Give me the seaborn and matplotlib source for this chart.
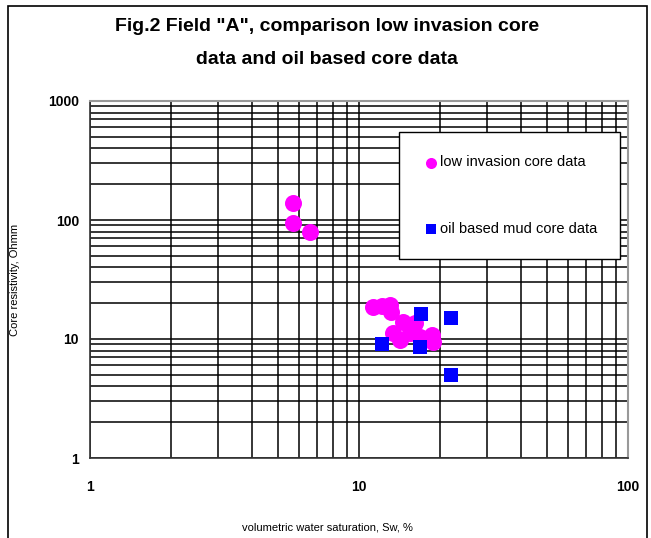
import numpy as np
import pandas as pd
import matplotlib
matplotlib.use("Agg")
import matplotlib.pyplot as plt
from matplotlib.patches import Rectangle
import seaborn as sns

sns.set_style("white")
plt.rcParams['font.family'] = ['Liberation Sans', 'DejaVu Sans']
plt.rcParams['text.color'] = 'black'
plt.rcParams['xtick.color'] = 'black'
plt.rcParams['ytick.color'] = 'black'

## data
low_inv_sw = [5.7, 5.7, 6.6, 11.3, 12.2, 13.0, 13.2, 14.6, 16.1, 13.4, 14.2, 15.5, 16.8, 18.7, 18.9, 15.7]
low_inv_rt = [138, 95, 80, 18.5, 18.8, 19.3, 16.9, 13.9, 13.6, 11.2, 9.9, 11.2, 10.4, 10.8, 9.4, 11.9]
obm_sw = [17.0, 22.0, 12.2, 16.9, 22.0]
obm_rt = [16.2, 15.0, 9.1, 8.6, 5.0]
series_names = ["low invasion core data", "oil based mud core data"]

df = pd.DataFrame({
    "sw": low_inv_sw + obm_sw,
    "rt": low_inv_rt + obm_rt,
    "series": [series_names[0]] * len(low_inv_sw) + [series_names[1]] * len(obm_sw),
})

fig = plt.figure(figsize=(6.51, 5.38), dpi=100)
ax = fig.add_axes([90 / 651, 1 - 458 / 538, 538 / 651, 357 / 538])

ax.set_xscale("log")
ax.set_yscale("log")
ax.set_xlim(1, 100)
ax.set_ylim(1, 1000)

# grid first so points sit on top
ax.grid(True, which="both", color="black", linewidth=1.1)
ax.set_axisbelow(True)

sub = df[df.series == series_names[0]]
sns.scatterplot(data=sub, x="sw", y="rt", ax=ax, color="#FF00FF", marker="o",
                s=150, linewidth=0, label=series_names[0], zorder=3)
sub = df[df.series == series_names[1]]
sns.scatterplot(data=sub, x="sw", y="rt", ax=ax, color="#0000FF", marker="s",
                s=110, linewidth=0, label=series_names[1], zorder=4)

ax.set_xticks([1, 10, 100])
ax.set_xticklabels(["1", "10", "100"])
ax.set_yticks([1, 10, 100, 1000])
ax.set_yticklabels(["1", "10", "100", "1000"])
ax.tick_params(axis="both", which="major", labelsize=10, length=4, width=1, color="black")
ax.tick_params(axis="both", which="minor", length=0)
for lab in ax.get_xticklabels() + ax.get_yticklabels():
    lab.set_fontweight("bold")
ax.tick_params(axis="x", pad=12)
ax.tick_params(axis="y", pad=4)

for side in ["left", "bottom"]:
    ax.spines[side].set_color("#333333")
    ax.spines[side].set_linewidth(1.2)
for side in ["top", "right"]:
    ax.spines[side].set_color("#999999")
    ax.spines[side].set_linewidth(1.5)

ax.set_xlabel("")
ax.set_ylabel("")
fig.text(327 / 651, 1 - 528 / 538, "volumetric water saturation, Sw, %", ha="center", va="center", fontsize=8)
fig.text(15 / 651, 1 - 280 / 538, "Core resistivity, Ohmm", ha="center", va="center", rotation=90, fontsize=8)

fig.text(327 / 651, 1 - 43 / 538, 'Fig.2 Field "A", comparison low invasion core\ndata and oil based core data',
         ha="center", va="center", fontsize=14, fontweight="bold", linespacing=2.25)

leg = ax.legend(loc="upper left", bbox_to_anchor=(0.574, 0.913), frameon=True, fancybox=False,
                fontsize=10.5, labelspacing=3.6, handletextpad=0.0, borderpad=1.6,
                handlelength=1.2, markerscale=0.65, borderaxespad=0)
leg.get_frame().set_edgecolor("black")
leg.get_frame().set_linewidth(1)
leg.get_frame().set_facecolor("white")
leg.get_frame().set_alpha(1)

# outer border of the chart area (open at the bottom)
fig.patches.append(Rectangle((8 / 651, -0.05), 639 / 651, 1.05 - 6 / 538, transform=fig.transFigure,
                             fill=False, edgecolor="black", linewidth=1.2))

fig.savefig("out.png", dpi=100)
plt.close()
